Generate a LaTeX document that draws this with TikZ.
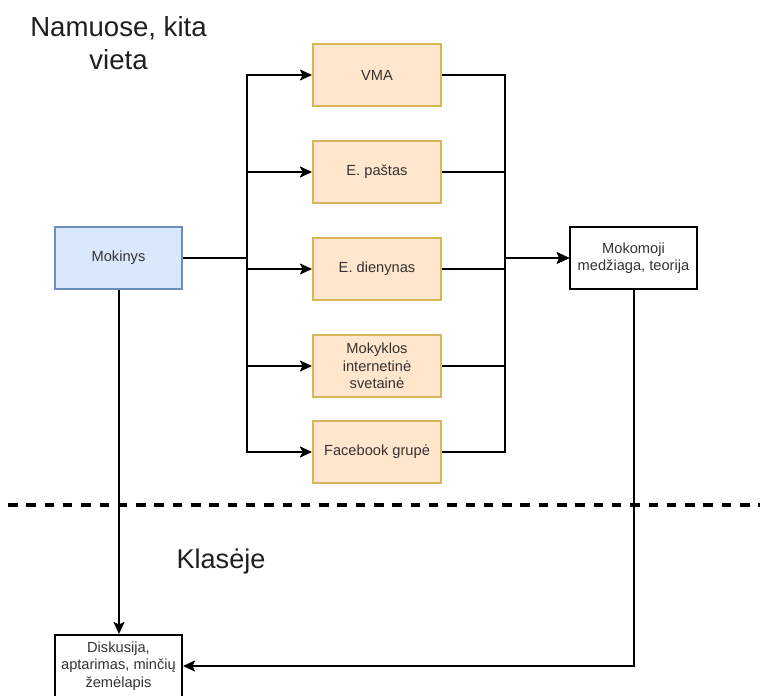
\documentclass[tikz,border=0pt]{standalone}
\usepackage{fontspec}
\setmainfont{Liberation Sans}
\usetikzlibrary{arrows.meta}
\definecolor{txt}{HTML}{333333}
\definecolor{bluefill}{HTML}{DAE8FC}
\definecolor{blueline}{HTML}{6C8EBF}
\definecolor{orangefill}{HTML}{FFE6CC}
\definecolor{orangeline}{HTML}{D9B65A}
\begin{document}
\begin{tikzpicture}[x=1bp,y=-1bp,
  box/.style={line width=2bp, minimum width=127bp, minimum height=62bp,
    inner sep=2pt, align=center, text=txt,
    font=\fontsize{14.7}{17.5}\selectfont},
  bluebox/.style={box, draw=blueline, fill=bluefill},
  orangebox/.style={box, draw=orangeline, fill=orangefill, minimum width=128bp},
  plainbox/.style={box, draw=black, fill=white},
  link/.style={draw=black, line width=2bp, line join=miter,
    -{Stealth[length=12bp,width=11bp,inset=2.5bp]}},
  bigtext/.style={text=black!88, align=center, inner sep=0pt}
]
\useasboundingbox (0,0) rectangle (760,696);

% zone labels and separator
\node[bigtext, font=\fontsize{27.7}{33}\selectfont] (zoneHome) at (118.5,43.5)
  {Namuose, kita\\vieta};
\node[bigtext, font=\fontsize{27.2}{33}\selectfont, anchor=base] (zoneClass) at (221,568)
  {Klasėje};
\coordinate (sepL) at (8,505);
\coordinate (sepR) at (765,505);
\draw[line width=4bp, dash pattern=on 9.5bp off 8.8bp] (sepL) -- (sepR);

% nodes
\node[bluebox] (mok) at (118.5,258) {Mokinys};
\node[orangebox] (vma) at (377,75) {VMA};
\node[orangebox] (pastas) at (377,172) {E. paštas};
\node[orangebox] (dien) at (377,269) {E. dienynas};
\node[orangebox] (svet) at (377,366) {Mokyklos\\internetinė\\svetainė};
\node[orangebox] (fb) at (377,452) {Facebook grupė};
\node[plainbox] (teo) at (633.5,258) {Mokomoji\\medžiaga, teorija};
\node[plainbox] (disk) at (118.5,666) {Diskusija,\\aptarimas, minčių\\žemėlapis};

% bus junctions
\coordinate (busL) at (247,258);
\coordinate (busR) at (505,258);

% student to every channel
\foreach \t in {vma,pastas,dien,svet,fb}
  \draw[link] (mok.east) -- (busL) |- (\t.west);

% every channel to the study material
\foreach \t in {vma,pastas,dien,svet,fb}
  \draw[link] (\t.east) -| (busR) -- (teo.west);

% class activities
\draw[link] ([xshift=0.5bp]mok.south) -- ([xshift=0.5bp]disk.north);
\draw[link] ([xshift=0.5bp]teo.south) |- (disk.east);
\end{tikzpicture}
\end{document}
